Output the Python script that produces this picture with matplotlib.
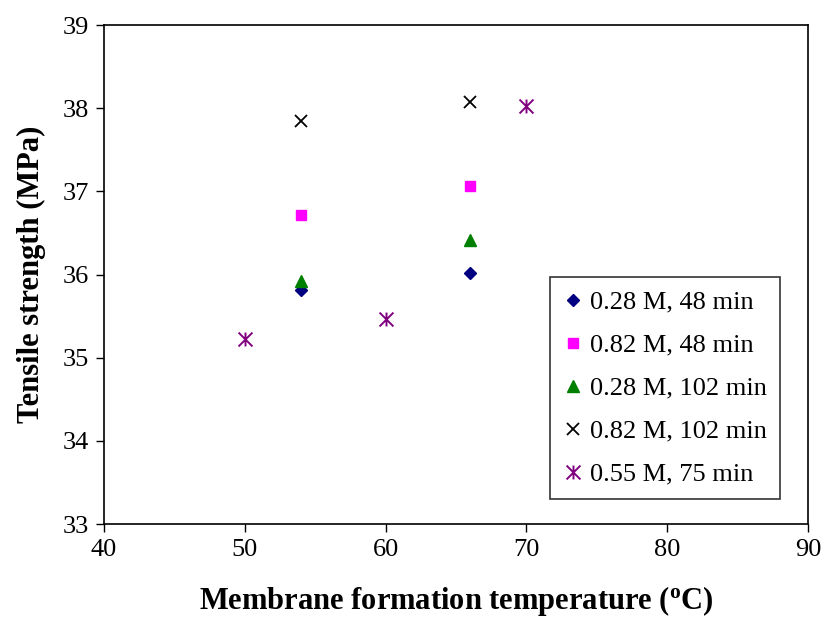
import matplotlib
matplotlib.use("Agg")
import matplotlib.pyplot as plt
from matplotlib.path import Path

plt.rcParams['font.family'] = ['Liberation Serif', 'DejaVu Serif']
plt.rcParams['mathtext.fontset'] = 'custom'
plt.rcParams['mathtext.rm'] = 'Liberation Serif'
plt.rcParams['mathtext.bf'] = 'Liberation Serif:bold'

labels = ["0.28 M, 48 min", "0.82 M, 48 min", "0.28 M, 102 min", "0.82 M, 102 min", "0.55 M, 75 min"]
x_s1 = [54, 66]
y_s1 = [35.81, 36.02]
x_s2 = [54, 66]
y_s2 = [36.72, 37.06]
x_s3 = [54, 66]
y_s3 = [35.92, 36.42]
x_s4 = [54, 66]
y_s4 = [37.85, 38.07]
x_s5 = [50, 60, 70]
y_s5 = [35.23, 35.47, 38.03]

# Excel-style star: X plus vertical bar
star = Path([(-0.5, -0.5), (0.5, 0.5), (-0.5, 0.5), (0.5, -0.5), (0, -0.5), (0, 0.5)],
            [Path.MOVETO, Path.LINETO, Path.MOVETO, Path.LINETO, Path.MOVETO, Path.LINETO])

fig = plt.figure(figsize=(8.27, 6.30), dpi=100)
ax = fig.add_axes([104/827, 1-524/630, (808-104)/827, (524-25)/630])

ax.plot(x_s1, y_s1, linestyle='none', marker='D', color='#000080', markersize=6.5, label=labels[0])
ax.plot(x_s2, y_s2, linestyle='none', marker='s', color='#FF00FF', markersize=7.5, label=labels[1])
ax.plot(x_s3, y_s3, linestyle='none', marker='^', color='#008000', markersize=8.5, label=labels[2])
ax.plot(x_s4, y_s4, linestyle='none', marker='x', color='black', markersize=9, markeredgewidth=1.3, label=labels[3])
ax.plot(x_s5, y_s5, linestyle='none', marker=star, color='#800080', markersize=10, markeredgewidth=1.4, label=labels[4])

ax.set_xlim(40, 90)
ax.set_ylim(33, 39)
ax.set_xticks([40, 50, 60, 70, 80, 90])
ax.set_yticks([33, 34, 35, 36, 37, 38, 39])
ax.tick_params(direction='out', length=6, width=1, labelsize=19, top=False, right=False, pad=5)
for s in ax.spines.values():
    s.set_linewidth(1.2)

ax.set_xlabel(r'Membrane formation temperature ($\mathbf{^{o}}$C)', fontsize=22, fontweight='bold', labelpad=16)
ax.set_ylabel('Tensile strength (MPa)', fontsize=22, fontweight='bold', labelpad=12)

leg = ax.legend(loc='lower right', bbox_to_anchor=(780/827, 1-499/630), bbox_transform=fig.transFigure,
                fontsize=19, frameon=True, fancybox=False, edgecolor='black', handlelength=0.7,
                handletextpad=0.3, borderpad=0.5, labelspacing=0.74, borderaxespad=0)
leg.get_frame().set_linewidth(1.2)

fig.savefig('out.png', dpi=100)
